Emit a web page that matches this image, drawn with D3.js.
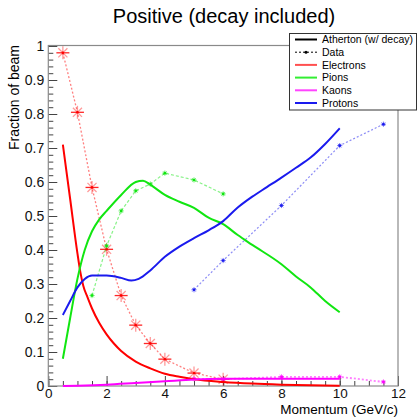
<!DOCTYPE html>
<html>
<head>
<meta charset="utf-8">
<script src="https://cdn.jsdelivr.net/npm/d3@7"></script>
<style>
  body { margin: 0; background: #fff; }
  svg { display: block; font-family: "Liberation Sans", Arial, sans-serif; }
</style>
</head>
<body>
<svg id="chart" width="418" height="417"></svg>
<script>
// Atherton curves (w/ decay) : [momentum, fraction]
const electronsAth = [[0.5,0.71],[0.75,0.55],[1.0,0.39],[1.1,0.335],[1.2,0.295],[1.35,0.26],[1.5,0.228],[1.75,0.185],[2,0.152],[2.25,0.125],[2.5,0.103],[3,0.072],[3.5,0.052],[4,0.036],[4.5,0.027],[5,0.02],[6,0.012],[7,0.007],[8,0.004],[9,0.002],[10,0.001]];
const pionsAth = [[0.5,0.08],[0.75,0.2],[1,0.315],[1.25,0.4],[1.5,0.455],[1.75,0.49],[2,0.515],[2.5,0.562],[3,0.6],[3.25,0.604],[3.5,0.592],[4,0.562],[4.5,0.542],[5,0.524],[5.5,0.495],[6,0.476],[6.5,0.444],[7,0.415],[8,0.358],[8.5,0.322],[9,0.29],[9.5,0.25],[10,0.217]];
const kaonsAth = [[0.5,0],[1,0.001],[2,0.004],[3,0.009],[4,0.014],[5,0.019],[6,0.021],[7,0.021],[8,0.021],[9,0.021],[10,0.021]];
const protonsAth = [[0.5,0.209],[0.75,0.25],[1,0.29],[1.25,0.315],[1.5,0.325],[2,0.325],[2.5,0.318],[2.85,0.31],[3.1,0.315],[3.5,0.34],[4,0.38],[4.5,0.41],[5,0.435],[5.5,0.458],[6,0.485],[6.5,0.525],[7,0.557],[7.5,0.585],[8,0.613],[8.5,0.642],[9,0.672],[9.5,0.712],[10,0.758]];

// measured data points
const electronsData = [[0.5,0.98],[1,0.805],[1.5,0.584],[2,0.402],[2.5,0.266],[3,0.179],[3.5,0.125],[4,0.079],[5,0.038],[6,0.02]];
const pionsData = [[1.5,0.266],[2,0.412],[2.5,0.515],[3,0.574],[3.5,0.594],[4,0.626],[5,0.606],[6,0.565]];
const kaonsData = [[5,0.021],[6,0.02],[8,0.027],[10,0.027],[11.5,0.012]];
const protonsData = [[5,0.283],[6,0.369],[8,0.531],[10,0.707],[11.5,0.77]];

const xMajor = [0, 2, 4, 6, 8, 10, 12];
const yMajor = [0, 0.1, 0.2, 0.3, 0.4, 0.5, 0.6, 0.7, 0.8, 0.9, 1];
const legendLabels = ["Atherton (w/ decay)", "Data", "Electrons", "Pions", "Kaons", "Protons"];

const cRed = "#ff0000", cGreen = "#11e611", cMag = "#ff00ff", cBlue = "#1a1aee";

const svg = d3.select("#chart");
const x = d3.scaleLinear().domain([0, 12]).range([48.3, 398]);
const y = d3.scaleLinear().domain([0, 1]).range([386, 46]);

// title
svg.append("text")
    .attr("x", 224).attr("y", 23)
    .attr("text-anchor", "middle")
    .style("font-size", "20px")
    .text("Positive (decay included)");

// axes (ticks drawn inside the frame, ROOT style)
const xMinor = d3.range(0, 12.001, 0.5);
const yMinor = d3.range(0, 1.0001, 0.02);

const gx = svg.append("g").attr("transform", `translate(0,${y(0)})`);
gx.append("g").call(d3.axisBottom(x).tickValues(xMinor).tickSize(-5).tickFormat(""));
gx.append("g").call(d3.axisBottom(x).tickValues(xMajor).tickSize(-10).tickPadding(2).tickFormat(d3.format("~g")));

const gy = svg.append("g").attr("transform", `translate(${x(0)},0)`);
gy.append("g").call(d3.axisLeft(y).tickValues(yMinor).tickSize(-5).tickFormat(""));
gy.append("g").call(d3.axisLeft(y).tickValues(yMajor).tickSize(-9).tickPadding(4).tickFormat(d3.format("~g")));

svg.selectAll(".domain").remove();
svg.selectAll(".tick line").attr("stroke", "#444");
svg.selectAll(".tick text").style("font-size", "14px").attr("fill", "#111")
    .style("font-family", "'Liberation Sans', Arial, sans-serif");
gx.selectAll(".tick text").style("font-size", "13.5px");

// frame
svg.append("rect")
    .attr("x", x(0)).attr("y", y(1) - 0.5)
    .attr("width", x(12) - x(0)).attr("height", y(0) - y(1) + 0.5)
    .attr("fill", "none").attr("stroke", "#8a8a8a").attr("stroke-width", 1.2);

// axis titles
svg.append("text")
    .attr("x", 398).attr("y", 413.5)
    .attr("text-anchor", "end")
    .style("font-size", "13.5px")
    .text("Momentum (GeV/c)");
svg.append("text")
    .attr("transform", `translate(19,45) rotate(-90)`)
    .attr("text-anchor", "end")
    .style("font-size", "14px")
    .text("Fraction of beam");

const lineSmooth = d3.line().x(d => x(d[0])).y(d => y(d[1])).curve(d3.curveMonotoneX);
const lineStraight = d3.line().x(d => x(d[0])).y(d => y(d[1]));

// data: dashed lines + markers
function dataSeries(pts, color, dash, width, marker) {
    svg.append("path")
        .datum(pts)
        .attr("d", lineStraight)
        .attr("fill", "none")
        .attr("stroke", color)
        .attr("stroke-opacity", 0.5)
        .attr("stroke-width", width)
        .attr("stroke-dasharray", dash);
    const g = svg.append("g");
    pts.forEach(p => marker(g, x(p[0]), y(p[1]), color));
}

function asterisk(g, cx, cy, color) {
    const r = 6.5;
    const m = g.append("g").attr("transform", `translate(${cx},${cy})`);
    [[-r,0,r,0],[0,-r,0,r],[-r*0.7,-r*0.7,r*0.7,r*0.7],[-r*0.7,r*0.7,r*0.7,-r*0.7]].forEach((s, i) => {
        m.append("line")
            .attr("x1", s[0]).attr("y1", s[1]).attr("x2", s[2]).attr("y2", s[3])
            .attr("stroke", color)
            .attr("stroke-opacity", i === 0 ? 0.85 : 0.4)
            .attr("stroke-width", 1.3);
    });
    m.append("circle").attr("r", 1.2).attr("fill", color);
}

function smallStar(g, cx, cy, color) {
    const r = 2.6;
    const m = g.append("g").attr("transform", `translate(${cx},${cy})`);
    [[-r,0,r,0],[0,-r,0,r],[-r*0.7,-r*0.7,r*0.7,r*0.7],[-r*0.7,r*0.7,r*0.7,-r*0.7]].forEach(s => {
        m.append("line")
            .attr("x1", s[0]).attr("y1", s[1]).attr("x2", s[2]).attr("y2", s[3])
            .attr("stroke", color).attr("stroke-opacity", 0.6).attr("stroke-width", 1);
    });
    m.append("circle").attr("r", 1.3).attr("fill", color);
}

dataSeries(electronsData, cRed, "2,2", 1.3, asterisk);
dataSeries(pionsData, cGreen, "3,2", 1.2, smallStar);
dataSeries(protonsData, cBlue, "2,2", 1.2, smallStar);
dataSeries(kaonsData, cMag, "2,2", 1.8, smallStar);

// Atherton solid curves
[[electronsAth, cRed], [pionsAth, cGreen], [protonsAth, cBlue], [kaonsAth, cMag]].forEach(([pts, color]) => {
    svg.append("path")
        .datum(pts)
        .attr("d", lineSmooth)
        .attr("fill", "none")
        .attr("stroke", color)
        .attr("stroke-width", 2);
});

// legend
const lg = svg.append("g");
lg.append("rect")
    .attr("x", 289.5).attr("y", 33.5).attr("width", 127).attr("height", 76.5)
    .attr("fill", "#fff").attr("stroke", "#333").attr("stroke-width", 1);
const legendColors = ["#000", "#000", "#ff5050", "#33ee33", "#ff44ff", "#1a1aee"];
legendLabels.forEach((label, i) => {
    const ly = 39.5 + i * 12.7;
    const l = lg.append("line")
        .attr("x1", 295).attr("x2", 317).attr("y1", ly).attr("y2", ly)
        .attr("stroke", legendColors[i])
        .attr("stroke-width", i === 1 ? 1 : 2);
    if (i === 1) {
        l.attr("stroke-dasharray", "2,2");
        lg.append("circle").attr("cx", 306).attr("cy", ly).attr("r", 1.5).attr("fill", "#000");
    }
    lg.append("text")
        .attr("x", 322).attr("y", ly)
        .attr("dy", "0.35em")
        .style("font-size", "10.5px")
        .text(label);
});
</script>
</body>
</html>
